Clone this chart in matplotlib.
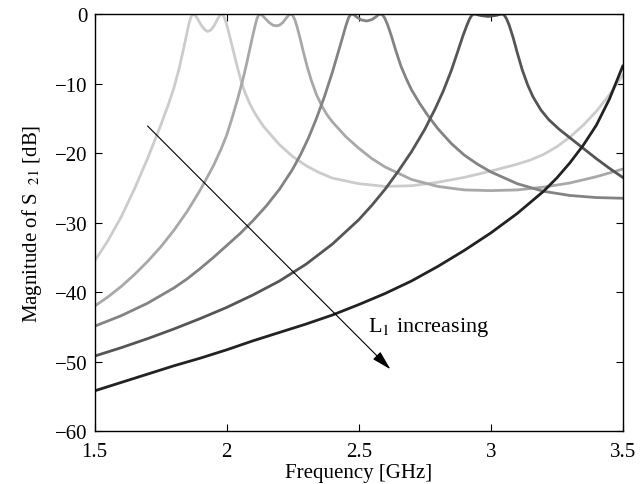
import matplotlib
matplotlib.use('Agg')
import matplotlib.pyplot as plt

plt.rcParams['font.family'] = ['Liberation Serif', 'DejaVu Serif']
plt.rcParams['mathtext.fontset'] = 'stix'

# curva 1 (L1 menor) - cinza claro
freq_1 = [1.50, 1.55, 1.60, 1.65, 1.70, 1.75, 1.78, 1.80, 1.82, 1.84, 1.85, 1.855, 1.862, 1.868, 1.874,
          1.882, 1.893, 1.905, 1.918, 1.928, 1.94, 1.952, 1.963, 1.972, 1.98, 1.987, 1.994, 2.002,
          2.012, 2.025, 2.04, 2.055, 2.07, 2.09, 2.11, 2.14, 2.17, 2.20, 2.25, 2.30, 2.35, 2.40,
          2.50, 2.60, 2.70, 2.80, 2.90, 3.00, 3.10, 3.15, 3.20, 3.25, 3.30, 3.35, 3.40, 3.45, 3.50]
s21_1 = [-35.5, -32.6, -29.2, -25.2, -20.8, -16.0, -12.9, -10.6, -7.8, -4.4, -2.6, -1.7, -0.7, -0.15, 0.0,
         -0.25, -0.9, -1.7, -2.3, -2.5, -2.3, -1.7, -0.9, -0.3, 0.0, -0.2, -0.8, -1.8,
         -3.3, -5.3, -7.6, -9.7, -11.4, -13.1, -14.5, -16.2, -17.5, -18.8, -20.5, -21.8, -22.8, -23.6,
         -24.4, -24.8, -24.7, -24.2, -23.5, -22.6, -21.6, -21.0, -20.2, -19.1, -17.7, -16.0, -14.0, -11.6, -8.8]

# curva 2
freq_2 = [1.50, 1.55, 1.60, 1.65, 1.70, 1.75, 1.80, 1.85, 1.90, 1.95, 1.98, 2.00, 2.02, 2.04, 2.06,
          2.075, 2.09, 2.10, 2.108, 2.115, 2.122, 2.128, 2.135, 2.145, 2.16, 2.175, 2.188, 2.20,
          2.213, 2.225, 2.235, 2.243, 2.25, 2.258, 2.267, 2.278, 2.29, 2.305, 2.32, 2.34, 2.36,
          2.38, 2.40, 2.45, 2.50, 2.55, 2.60, 2.70, 2.80, 2.90, 3.00, 3.10, 3.20, 3.30, 3.40, 3.50]
s21_2 = [-42.0, -40.7, -39.2, -37.5, -35.6, -33.5, -31.1, -28.4, -25.3, -21.8, -19.3, -17.4, -15.0, -12.4, -9.6,
         -7.2, -4.6, -2.9, -1.6, -0.6, -0.1, 0.0, -0.2, -0.6, -1.2, -1.6, -1.7, -1.6,
         -1.2, -0.6, -0.15, 0.0, -0.2, -0.8, -1.9, -3.5, -5.4, -7.6, -9.5, -11.6, -13.2,
         -14.5, -15.5, -17.6, -19.3, -20.8, -22.0, -23.8, -24.8, -25.3, -25.4, -25.3, -24.9, -24.3, -23.4, -22.3]

# curva 3
freq_3 = [1.50, 1.60, 1.70, 1.80, 1.85, 1.90, 1.95, 2.00, 2.05, 2.10, 2.15, 2.20, 2.25, 2.28, 2.31,
          2.34, 2.37, 2.40, 2.42, 2.44, 2.452, 2.462, 2.47, 2.476, 2.483, 2.495, 2.51, 2.53, 2.55,
          2.565, 2.577, 2.585, 2.592, 2.60, 2.61, 2.625, 2.64, 2.66, 2.68, 2.70, 2.73, 2.76, 2.80,
          2.85, 2.90, 2.95, 3.00, 3.10, 3.20, 3.30, 3.40, 3.50]
s21_3 = [-44.9, -43.4, -41.6, -39.4, -38.1, -36.6, -35.0, -33.3, -31.6, -29.7, -27.6, -25.2, -22.3, -20.2, -17.8,
         -15.0, -11.9, -8.4, -5.8, -3.2, -1.6, -0.5, -0.05, 0.0, -0.15, -0.5, -0.85, -1.0, -0.8,
         -0.4, -0.05, 0.0, -0.2, -0.7, -1.6, -3.3, -5.2, -7.5, -9.3, -10.9, -12.8, -14.5, -16.5,
         -18.6, -20.3, -21.6, -22.7, -24.4, -25.5, -26.1, -26.4, -26.5]

# curva 4
freq_4 = [1.50, 1.60, 1.70, 1.80, 1.90, 2.00, 2.10, 2.20, 2.30, 2.40, 2.50, 2.55, 2.60, 2.65, 2.70,
          2.75, 2.79, 2.82, 2.85, 2.875, 2.895, 2.91, 2.92, 2.928, 2.935, 2.945, 2.96, 2.99, 3.02,
          3.035, 3.045, 3.052, 3.06, 3.07, 3.085, 3.10, 3.12, 3.14, 3.16, 3.19, 3.22, 3.26, 3.30,
          3.35, 3.40, 3.45, 3.50]
s21_4 = [-49.2, -48.0, -46.7, -45.3, -43.8, -42.2, -40.4, -38.4, -36.0, -33.1, -29.6, -27.5, -25.2, -22.6, -19.8,
         -16.6, -13.6, -11.1, -8.2, -5.4, -3.1, -1.6, -0.7, -0.2, 0.0, -0.05, -0.2, -0.35, -0.2,
         -0.05, 0.0, -0.2, -0.7, -1.6, -3.4, -5.5, -8.1, -10.2, -11.9, -13.8, -15.2, -16.6, -17.8,
         -19.3, -20.8, -22.2, -23.5]

# curva 5 (L1 maior) - quase preto
freq_5 = [1.50, 1.60, 1.70, 1.80, 1.90, 2.00, 2.10, 2.20, 2.30, 2.40, 2.50, 2.60, 2.70, 2.80, 2.90,
          3.00, 3.10, 3.20, 3.25, 3.30, 3.35, 3.40, 3.45, 3.50]
s21_5 = [-54.2, -53.0, -51.8, -50.6, -49.5, -48.3, -47.0, -45.8, -44.6, -43.3, -41.8, -40.2, -38.4, -36.3, -34.0,
         -31.5, -28.7, -25.5, -23.6, -21.4, -18.9, -16.0, -12.2, -7.5]

curvas = [(freq_1, s21_1), (freq_2, s21_2), (freq_3, s21_3), (freq_4, s21_4), (freq_5, s21_5)]
cores = ['#cccccc', '#a8a8a8', '#838383', '#555555', '#222222']

x_ticks = [1.5, 2, 2.5, 3, 3.5]
x_tick_labels = ['1.5', '2', '2.5', '3', '3.5']
y_ticks = [0, -10, -20, -30, -40, -50, -60]

fig = plt.figure(figsize=(6.4, 4.85), dpi=100)
ax = fig.add_axes([0.148, 0.109, 0.825, 0.860])

for (f, s), cor in zip(curvas, cores):
    ax.plot(f, s, color=cor, lw=2.0, solid_joinstyle='round')

ax.set_xlim(1.5, 3.5)
ax.set_ylim(-60, 0)
ax.set_xticks(x_ticks)
ax.set_xticklabels(x_tick_labels)
ax.set_yticks(y_ticks)
ax.tick_params(direction='in', top=True, right=True, length=5, width=0.8,
               labelsize=15)
ax.tick_params(axis='x', pad=8)
ax.tick_params(axis='y', pad=5)
for sp in ax.spines.values():
    sp.set_linewidth(1.0)

ax.set_xlabel('Frequency [GHz]', fontsize=15, labelpad=1)
ax.set_ylabel('Magnitude of S $_{\\ 21}$ [dB]', fontsize=15, labelpad=8)

# seta "L1 increasing"
ax.annotate('', xy=(2.62, -51.1), xytext=(1.70, -16.1),
            arrowprops=dict(arrowstyle='-|>,head_length=0.6,head_width=0.16',
                            color='black', lw=0.8, mutation_scale=20,
                            shrinkA=0, shrinkB=0))
ax.text(2.535, -45.0, 'L$_1$ increasing', fontsize=16, va='center', ha='left')

fig.savefig('out.png', dpi=100)
